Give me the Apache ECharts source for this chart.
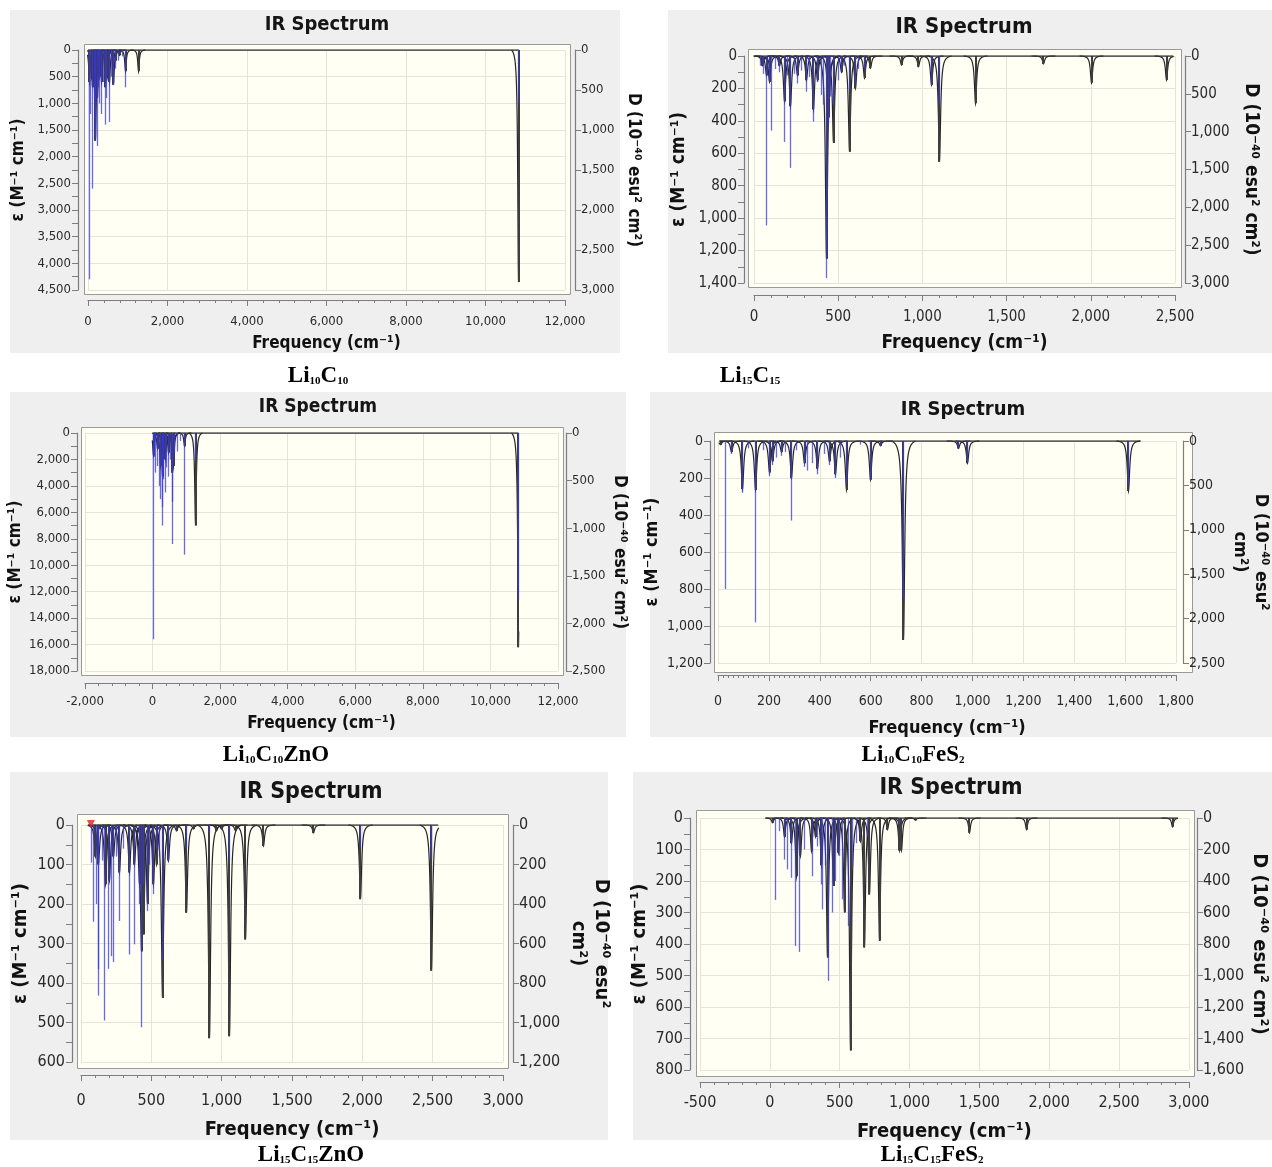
<!DOCTYPE html>
<html><head><meta charset="utf-8">
<script src="https://cdn.jsdelivr.net/npm/echarts@6/dist/echarts.min.js"></script>
<style>html,body{margin:0;padding:0;background:#fff}#c{width:1272px;height:1167px}</style>
</head><body><div id="c"></div>
<script>
// ---------------- DATA ----------------
const panelTitle = 'IR Spectrum';
const xName = 'Frequency (cm⁻¹)';
const yLeftName = 'ε (M⁻¹ cm⁻¹)';
const yRightName = 'D (10⁻⁴⁰ esu² cm²)';
const yRightNameWrapped = 'D (10⁻⁴⁰ esu²\ncm²)';

// captions: even index = normal text, odd index = subscript
const caption1 = ['Li','10','C','10'];
const caption2 = ['Li','15','C','15'];
const caption3 = ['Li','10','C','10','ZnO'];
const caption4 = ['Li','10','C','10','FeS','2'];
const caption5 = ['Li','15','C','15','ZnO'];
const caption6 = ['Li','15','C','15','FeS','2'];

// axis ranges [min, max, interval]
const xRange1 = [0, 12000, 2000],  yLRange1 = [0, 4500, 500],  yRRange1 = [0, 3000, 500];
const xRange2 = [0, 2500, 500],    yLRange2 = [0, 1400, 200],  yRRange2 = [0, 3000, 500];
const xRange3 = [-2000, 12000, 2000], yLRange3 = [0, 18000, 2000], yRRange3 = [0, 2500, 500];
const xRange4 = [0, 1800, 200],    yLRange4 = [0, 1200, 200],  yRRange4 = [0, 2500, 500];
const xRange5 = [0, 3000, 500],    yLRange5 = [0, 600, 100],   yRRange5 = [0, 1200, 200];
const xRange6 = [-500, 3000, 500], yLRange6 = [0, 800, 100],   yRRange6 = [0, 1600, 200];

// spectrum extent (baseline of broadened curve) [start, end] in cm-1
const span1 = [0, 10840];
const span2 = [0, 2490];
const span3 = [0, 10830];
const span4 = [5, 1660];
const span5 = [50, 2540];
const span6 = [-30, 2920];

// stick transitions [frequency, epsilon]
const sticks1 = [[30,4300],[70,1200],[115,2600],[160,900],[200,1650],[230,1800],[270,700],[300,1000],[350,1200],[400,600],[430,1400],[470,900],[530,1350],[580,500],[640,650],[700,350],[760,200],[880,120],[950,700],[10840,1000]];
const sticks2 = [[40,60],[55,110],[75,1045],[90,140],[105,460],[130,80],[150,100],[184,530],[200,120],[214,690],[240,110],[259,170],[280,90],[309,220],[330,130],[352,405],[380,160],[400,240],[415,300],[432,1370],[445,420],[455,250],[475,300],[500,150],[520,90],[540,60],[570,200],[600,170],[620,80],[659,80],[1055,170],[1100,300]];
const sticks3 = [[30,15600],[60,1800],[100,3000],[150,2500],[200,4000],[240,5000],[280,5600],[300,7000],[330,3500],[380,4500],[420,2600],[480,3300],[530,2000],[580,5200],[600,8400],[650,1500],[750,1400],[820,600],[950,9200],[1280,2000],[10830,12600]];
const sticks4 = [[31,800],[55,70],[96,280],[120,40],[149,980],[180,50],[203,190],[215,130],[230,90],[250,80],[265,60],[287,430],[310,50],[340,140],[350,160],[370,120],[390,180],[420,70],[440,130],[460,200],[480,90],[505,230],[560,20],[600,210],[640,30],[727,850],[945,40],[980,110],[1613,230]];
const sticks5 = [[73,95],[89,245],[110,200],[122,365],[127,432],[150,90],[170,495],[197,364],[216,332],[230,347],[250,80],[273,243],[300,60],[344,328],[379,302],[419,200],[433,512],[446,150],[473,218],[490,100],[514,175],[540,60],[560,80],[582,340],[622,90],[749,60],[910,20],[1053,90],[1985,57],[2490,85]];
const sticks6 = [[38,260],[67,42],[107,132],[125,163],[154,190],[183,406],[212,425],[250,100],[304,185],[340,90],[368,211],[377,290],[400,150],[420,517],[449,300],[470,200],[500,120],[522,258],[565,343],[594,153],[620,80],[700,60],[928,20]];

// broadened-spectrum band maxima [frequency, epsilon]
const bands1 = [[30,600],[90,500],[120,700],[180,1700],[230,900],[300,500],[350,600],[430,700],[480,500],[530,600],[640,650],[700,200],[800,100],[950,400],[1280,400],[10840,4350]];
const bands2 = [[50,60],[75,120],[95,160],[150,60],[184,280],[214,310],[259,120],[309,150],[352,330],[380,150],[432,1250],[445,380],[475,537],[520,100],[570,590],[600,200],[659,136],[689,75],[877,55],[975,66],[1055,179],[1100,652],[1318,292],[1718,49],[2005,165],[2452,148]];
const bands3 = [[30,1700],[150,1200],[240,2500],[300,3300],[380,2000],[480,1500],[580,3000],[620,2500],[950,1000],[1280,7000],[10830,16200]];
const bands4 = [[10,20],[55,60],[96,260],[149,265],[203,170],[215,110],[250,60],[287,200],[340,120],[390,150],[440,110],[460,180],[505,265],[600,210],[640,25],[727,1075],[945,40],[980,120],[1613,270]];
const bands5 = [[100,80],[122,100],[176,150],[200,140],[230,80],[273,120],[344,120],[379,100],[419,150],[433,320],[446,277],[473,200],[514,150],[540,100],[582,438],[622,90],[680,15],[749,222],[800,10],[910,540],[960,15],[1000,10],[1053,535],[1100,15],[1167,290],[1295,53],[1650,20],[1985,188],[2490,369]];
const bands6 = [[20,15],[107,60],[154,80],[194,185],[217,120],[299,105],[330,60],[368,150],[414,443],[458,216],[490,110],[536,300],[580,738],[646,74],[675,411],[710,243],[788,390],[840,37],[928,103],[942,103],[1043,7],[1429,47],[1840,37],[2884,28]];

// selected-mode marker in panel 5
const marker5 = [[70, 0]];

// ---------------- LAYOUT / STYLE ----------------
const FONT = '"DejaVu Sans Condensed","DejaVu Sans",sans-serif';
const panels = [
  {cap:caption1, x:xRange1, yl:yLRange1, yr:yRRange1, span:span1, sticks:sticks1, bands:bands1, rName:yRightName},
  {cap:caption2, x:xRange2, yl:yLRange2, yr:yRRange2, span:span2, sticks:sticks2, bands:bands2, rName:yRightName},
  {cap:caption3, x:xRange3, yl:yLRange3, yr:yRRange3, span:span3, sticks:sticks3, bands:bands3, rName:yRightName},
  {cap:caption4, x:xRange4, yl:yLRange4, yr:yRRange4, span:span4, sticks:sticks4, bands:bands4, rName:yRightNameWrapped},
  {cap:caption5, x:xRange5, yl:yLRange5, yr:yRRange5, span:span5, sticks:sticks5, bands:bands5, rName:yRightNameWrapped, marker:marker5},
  {cap:caption6, x:xRange6, yl:yLRange6, yr:yRRange6, span:span6, sticks:sticks6, bands:bands6, rName:yRightName}
];
const layout = [
  {bg:[10,10,610,343], plot:[84,44,486,250], grid:[88,50,477,240], xOff:10, ylOff:10, yrOff:10, lab:13, nm:17, ttl:20, title:[327,25], xGap:34, xMargin:15, ylGap:49, yrGap:48, cap:[318,376], minor:5, g:0.9, R:7},
  {bg:[668,10,604,343], plot:[748,49,433,238], grid:[754,56,421,227], xOff:12, ylOff:10, yrOff:10, lab:15, nm:19, ttl:22, title:[964,27], xGap:37, xMargin:15, ylGap:54, yrGap:55, cap:[750,376], minor:5, g:1.3, R:12},
  {bg:[10,392,616,345], plot:[81,427,482,248], grid:[85,433,473,238], xOff:12, ylOff:8, yrOff:8, lab:13, nm:17, ttl:19, title:[318,407], xGap:31, xMargin:12, ylGap:46, yrGap:37, cap:[276,755], minor:5, g:0.9, R:7},
  {bg:[650,392,622,345], plot:[714,432,478,240], grid:[718,441,471,222], xOff:12, ylOff:8, yrOff:7, lab:14, nm:18, ttl:20, title:[963,410], xGap:43, xMargin:19, ylGap:44, yrGap:43, cap:[913,755], minor:10, g:1.4, R:12},
  {bg:[10,772,598,368], plot:[77,814,431,254], grid:[81,825,422,237], xOff:13, ylOff:9, yrOff:10, lab:16, nm:20, ttl:23, title:[311,792], xGap:43, xMargin:18, ylGap:40, yrGap:54, cap:[311,1155], minor:5, g:1.3, R:12},
  {bg:[633,772,639,368], plot:[696,810,498,266], grid:[700,818,490,252], xOff:12, ylOff:10, yrOff:8, lab:16, nm:20, ttl:23, title:[951,788], xGap:38, xMargin:13, ylGap:35, yrGap:50, cap:[932,1155], minor:5, g:1.2, R:11}
];

const AXIS_COLOR = '#7d7d7d';
const LABEL_COLOR = '#2a2a2a';
const GRIDLINE = '#e4e4da';
const CURVE = '#262626';
const fmt = v => Number(v).toLocaleString('en-US');
const snap = x => Math.round(x - 0.5) + 0.5;

// funnel-shaped band outline (drawn in pixel space through the axis transform)
function bandRenderer(g, R, span) {
  return function (params, api) {
    const f = api.value(0), d = api.value(1);
    const base = api.coord([f, 0]);
    const tip = api.coord([f, d]);
    const xs0 = api.coord([span[0], 0])[0];
    const xs1 = api.coord([span[1], 0])[0];
    const depth = tip[1] - base[1];
    const LR = g * g / (R * R + g * g);
    const cx = snap(base[0]);
    const pts = [];
    for (let dx = -R; dx <= R + 1e-6; dx += 0.25) {
      const x = cx + dx;
      if (x < xs0 - 0.5 || x > xs1 + 0.5) continue;
      const L = g * g / (dx * dx + g * g);
      pts.push([x, base[1] + depth * (L - LR) / (1 - LR)]);
    }
    return {type: 'polyline', shape: {points: pts}, style: {stroke: CURVE, lineWidth: 1.2, fill: null}};
  };
}
// solid core of each band
function coreRenderer(params, api) {
  const f = api.value(0), d = api.value(1);
  const a = api.coord([f, 0]);
  const b = api.coord([f, d]);
  const x = Math.round(a[0]) - 1;
  return {type: 'rect', shape: {x: x, y: a[1], width: 2, height: b[1] - a[1]}, style: {fill: '#3d3d3d'}};
}
// stick transitions
function stickRenderer(params, api) {
  const f = api.value(0), d = api.value(1);
  const a = api.coord([f, 0]);
  const b = api.coord([f, d]);
  const x = snap(a[0]);
  return {type: 'line', shape: {x1: x, y1: a[1], x2: x, y2: b[1]}, style: {stroke: 'rgba(55,55,225,0.75)', lineWidth: 1.3}};
}

const grids = [], xAxes = [], yAxes = [], series = [], graphics = [];
panels.forEach((p, i) => {
  const L = layout[i];
  graphics.push({type: 'rect', silent: true, z: -10, shape: {x: L.bg[0], y: L.bg[1], width: L.bg[2], height: L.bg[3]}, style: {fill: '#efefef'}});
  graphics.push({type: 'rect', silent: true, z: -9, shape: {x: L.plot[0] + 0.5, y: L.plot[1] + 0.5, width: L.plot[2], height: L.plot[3]}, style: {fill: '#fffff3', stroke: '#999999', lineWidth: 1}});
  graphics.push({type: 'text', silent: true, z: 10, x: L.title[0], y: L.title[1], style: {text: panelTitle, fontFamily: FONT, fontWeight: 'bold', fontSize: L.ttl, fill: '#151515', align: 'center', verticalAlign: 'middle'}});
  let txt = '';
  p.cap.forEach((s, k) => { txt += (k % 2 === 0 ? '{n|' : '{s|') + s + '}'; });
  graphics.push({type: 'text', silent: true, z: 10, x: L.cap[0], y: L.cap[1], style: {
    text: txt, align: 'center', verticalAlign: 'middle',
    rich: {
      n: {fontFamily: '"Liberation Serif","Times New Roman",serif', fontWeight: 'bold', fontSize: 23, fill: '#000', verticalAlign: 'bottom'},
      s: {fontFamily: '"Liberation Serif","Times New Roman",serif', fontWeight: 'bold', fontSize: 11, fill: '#000', verticalAlign: 'bottom', padding: [0, 0, 1, 0]}
    }}});

  grids.push({left: L.grid[0], top: L.grid[1], width: L.grid[2], height: L.grid[3], containLabel: false});

  const labelStyle = {fontFamily: FONT, fontSize: L.lab, color: LABEL_COLOR, formatter: fmt};
  const nameStyle = {fontFamily: FONT, fontSize: L.nm, fontWeight: 'bold', color: '#111', lineHeight: L.nm + 3};

  xAxes.push({
    gridIndex: i, type: 'value', min: p.x[0], max: p.x[1], interval: p.x[2], position: 'bottom', offset: L.xOff,
    axisLine: {show: true, onZero: false, lineStyle: {color: AXIS_COLOR, width: 1.2}},
    axisTick: {show: true, length: 6, lineStyle: {color: AXIS_COLOR}},
    minorTick: {show: true, splitNumber: L.minor, length: 3, lineStyle: {color: AXIS_COLOR}},
    splitLine: {show: true, lineStyle: {color: GRIDLINE, width: 1}},
    axisLabel: Object.assign({margin: L.xMargin}, labelStyle),
    name: xName, nameLocation: 'middle', nameGap: L.xGap, nameTextStyle: nameStyle
  });
  yAxes.push({
    gridIndex: i, type: 'value', inverse: true, min: p.yl[0], max: p.yl[1], interval: p.yl[2], position: 'left', offset: L.ylOff,
    axisLine: {show: true, onZero: false, lineStyle: {color: AXIS_COLOR, width: 1.2}},
    axisTick: {show: true, length: 6, lineStyle: {color: AXIS_COLOR}},
    minorTick: {show: true, splitNumber: 2, length: 6, lineStyle: {color: AXIS_COLOR}},
    splitLine: {show: true, lineStyle: {color: GRIDLINE, width: 1}},
    axisLabel: Object.assign({margin: 7}, labelStyle),
    name: yLeftName, nameLocation: 'middle', nameRotate: 90, nameGap: L.ylGap, nameTextStyle: nameStyle
  });
  yAxes.push({
    gridIndex: i, type: 'value', inverse: true, min: p.yr[0], max: p.yr[1], interval: p.yr[2], position: 'right', offset: L.yrOff,
    axisLine: {show: true, onZero: false, lineStyle: {color: AXIS_COLOR, width: 1.2}},
    axisTick: {show: true, length: 6, lineStyle: {color: AXIS_COLOR}},
    splitLine: {show: false},
    axisLabel: Object.assign({margin: 6}, labelStyle),
    name: p.rName, nameLocation: 'middle', nameRotate: -90, nameGap: L.yrGap, nameTextStyle: nameStyle
  });

  series.push({
    type: 'line', xAxisIndex: i, yAxisIndex: 2 * i, silent: true, symbol: 'none', z: 3,
    lineStyle: {color: '#333', width: 1.4}, data: [[p.span[0], 0], [p.span[1], 0]]
  });
  series.push({
    type: 'custom', xAxisIndex: i, yAxisIndex: 2 * i, silent: true, z: 3,
    renderItem: bandRenderer(L.g, L.R, p.span), encode: {x: 0, y: 1}, data: p.bands
  });
  series.push({
    type: 'custom', xAxisIndex: i, yAxisIndex: 2 * i, silent: true, z: 3,
    renderItem: coreRenderer, encode: {x: 0, y: 1}, data: p.bands
  });
  series.push({
    type: 'custom', xAxisIndex: i, yAxisIndex: 2 * i, silent: true, z: 4,
    renderItem: stickRenderer, encode: {x: 0, y: 1}, data: p.sticks
  });
  if (p.marker) {
    series.push({
      type: 'scatter', xAxisIndex: i, yAxisIndex: 2 * i, silent: true, z: 6,
      symbol: 'triangle', symbolRotate: 180, symbolSize: 8, symbolOffset: [0, -1],
      itemStyle: {color: '#e0201a'}, data: p.marker
    });
  }
});

const chart = echarts.init(document.getElementById('c'), null, {renderer: 'canvas'});
chart.setOption({
  animation: false,
  backgroundColor: '#ffffff',
  grid: grids, xAxis: xAxes, yAxis: yAxes, series: series,
  graphic: {elements: graphics}
});
</script></body></html>
